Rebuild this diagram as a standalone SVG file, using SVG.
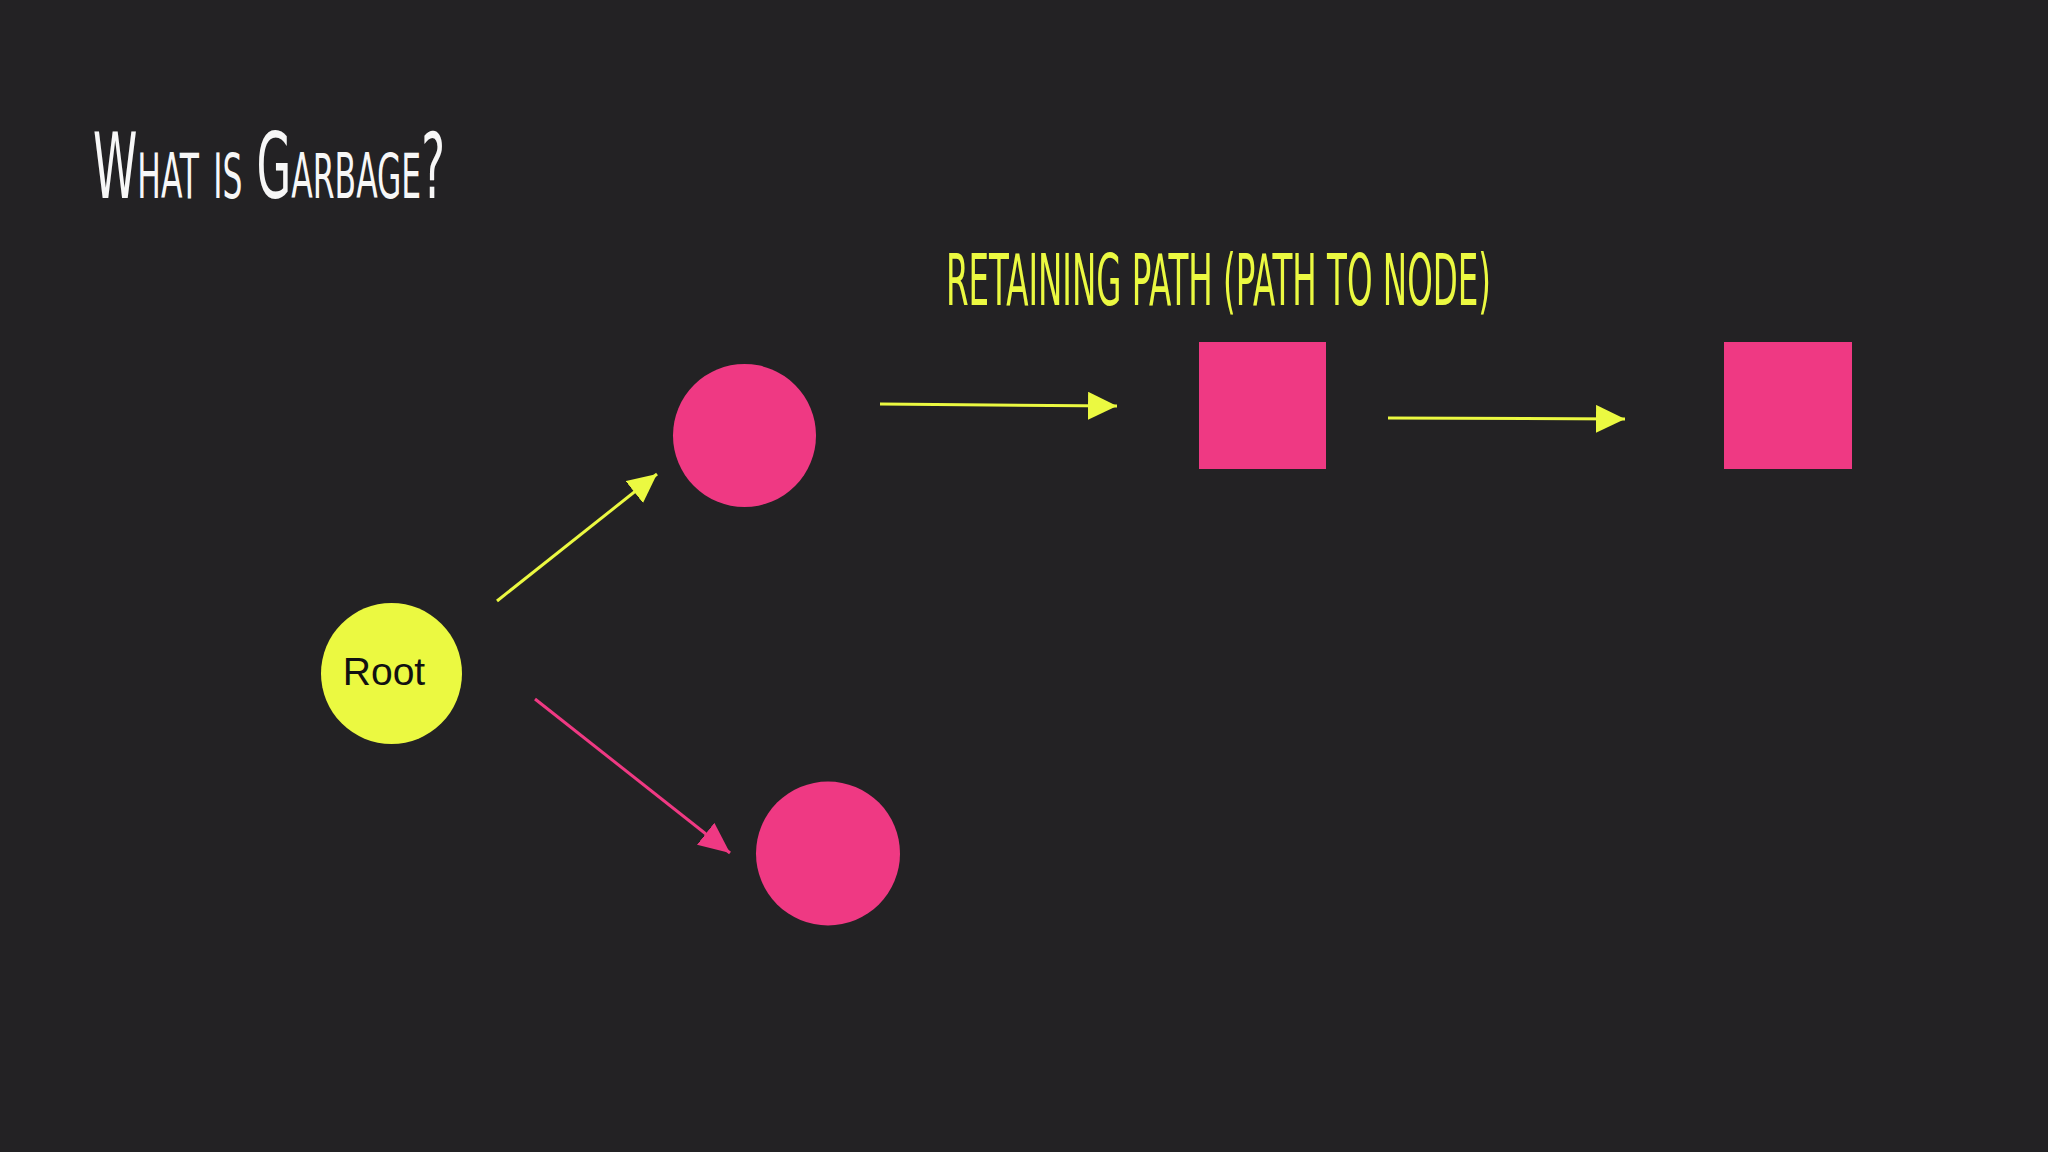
<svg xmlns="http://www.w3.org/2000/svg" width="2048" height="1152" viewBox="0 0 2048 1152">
<style>
.pink{fill:#ef3983}
.yel{stroke:#ebf941;stroke-width:3;fill:none}
.pk{stroke:#ef3983;stroke-width:3;fill:none}
.title{font-family:"Liberation Sans Narrow","DejaVu Sans Condensed","Liberation Sans",sans-serif;fill:#f7f7f7}
</style>
<defs>
<marker id="ay" markerUnits="userSpaceOnUse" markerWidth="32" markerHeight="32" refX="29" refY="14" orient="auto"><path d="M0,0 L29,14 L0,28 Z" fill="#ebf941"/></marker>
<marker id="ap" markerUnits="userSpaceOnUse" markerWidth="34" markerHeight="34" refX="31" refY="14" orient="auto"><path d="M0,0 L31,14 L0,28 Z" fill="#ef3983"/></marker>
</defs>
<rect width="2048" height="1152" fill="#232224"/>
<g id="title"><text class="title" x="93" y="198" font-size="90" font-variant="small-caps" textLength="352" lengthAdjust="spacingAndGlyphs">What is Garbage?</text></g>
<g id="subtitle"><text class="title" x="946" y="305" font-size="72" style="fill:#ebf941" textLength="545" lengthAdjust="spacingAndGlyphs">RETAINING PATH (PATH TO NODE)</text></g>
<g id="connectors">
<line class="yel" x1="497" y1="601" x2="657" y2="474" marker-end="url(#ay)"/>
<line class="pk" x1="535" y1="699" x2="730" y2="853" marker-end="url(#ap)"/>
<line class="yel" x1="880" y1="404" x2="1117" y2="406" marker-end="url(#ay)"/>
<line class="yel" x1="1388" y1="418" x2="1625" y2="419" marker-end="url(#ay)"/>
</g>
<g id="root"><circle cx="391.5" cy="673.5" r="70.5" fill="#ebf941"/><text x="384" y="685" font-family="Liberation Sans, Arial, sans-serif" font-size="39" text-anchor="middle" fill="#111">Root</text></g>
<g id="node-a"><circle class="pink" cx="744.5" cy="435.5" r="71.5"/></g>
<g id="node-b"><circle class="pink" cx="828" cy="853.5" r="72"/></g>
<g id="node-c"><rect class="pink" x="1199" y="342" width="127" height="127"/></g>
<g id="node-d"><rect class="pink" x="1724" y="342" width="128" height="127"/></g>
</svg>
